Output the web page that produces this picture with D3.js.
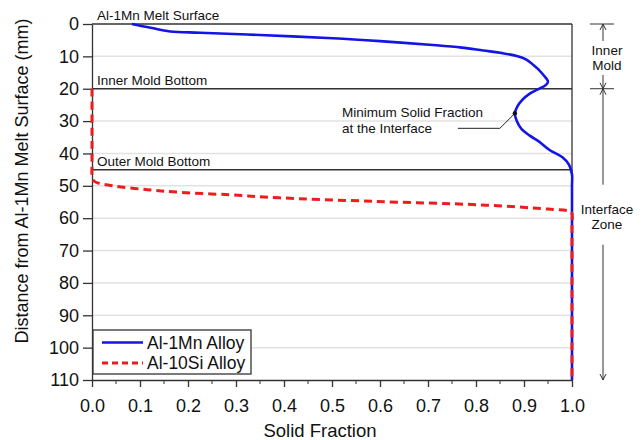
<!DOCTYPE html>
<html>
<head>
<meta charset="utf-8">
<script src="https://cdn.jsdelivr.net/npm/d3@7"></script>
<style>
  body { margin: 0; background: #fff; }
  text { font-family: "Liberation Sans", Arial, sans-serif; fill: #111; }
</style>
</head>
<body>
<div class="chart"></div>
<script>
// values
var xTicks = [0, 0.1, 0.2, 0.3, 0.4, 0.5, 0.6, 0.7, 0.8, 0.9, 1.0];
var xMinorTicks = [0.05, 0.15, 0.25, 0.35, 0.45, 0.55, 0.65, 0.75, 0.85, 0.95];
var yTicks = [0, 10, 20, 30, 40, 50, 60, 70, 80, 90, 100, 110];

// Al-1Mn alloy: solid fraction vs depth (mm)
var mnFraction = [0.083, 0.12, 0.163, 0.225, 0.35, 0.502, 0.6, 0.71, 0.77, 0.815, 0.855, 0.885, 0.905, 0.919, 0.93, 0.94, 0.95, 0.945, 0.933, 0.912, 0.896, 0.886, 0.881, 0.885, 0.895, 0.912, 0.93, 0.954, 0.98, 0.994, 1.0, 1.0, 1.0];
var mnDepth    = [0,     1.1,  2.3,   2.7,   3.4,  4.4,   5.3, 6.5,  7.3,  8.2,   9.0,   9.9,   11.0,  12.6,  14.0, 15.7, 17.8, 18.9,  19.9,  21.5,  23.5,  25.5,  27.6,  30.0,  32.5,  34.5,  36.2, 39.0,  41.2, 43.5,  46.5, 50,  110];

// Al-10Si alloy
var siFraction = [0.0, 0.0, 0.0,  0.004, 0.044, 0.115, 0.183, 0.29, 0.39, 0.585, 0.81, 0.95, 0.996, 1.0,  1.0, 1.0];
var siDepth    = [20,  44,  46.5, 48.5,  50.0,  51.2,  52.0,  52.8, 53.7, 54.8,  55.9, 57.2, 57.9,  58.6, 62,  110];

var refDepths = [0, 20, 45];
var refLabels = ["Al-1Mn Melt Surface", "Inner Mold Bottom", "Outer Mold Bottom"];

var zoneStarts = [0, 20];
var zoneEnds = [20, 110];
var zoneLabels = [["Inner", "Mold"], ["Interface", "Zone"]];

var seriesNames = ["Al-1Mn Alloy", "Al-10Si Alloy"];
var seriesColors = ["#1414e6", "#ee1c1c"];

var minPoint = [0.881, 27.6];

var width = 644, height = 440;

var svg = d3.select(".chart").append("svg")
    .attr("width", width)
    .attr("height", height);

var x = d3.scaleLinear().domain([0, 1]).range([92, 572]);
var y = d3.scaleLinear().domain([0, 110]).range([24, 380]);

//light gridlines
svg.append("g").selectAll("line")
    .data(yTicks.filter(function(d) { return d > 0 && d < 110; }))
    .enter().append("line")
    .attr("x1", x(0)).attr("x2", x(1))
    .attr("y1", function(d) { return y(d); })
    .attr("y2", function(d) { return y(d); })
    .attr("stroke", "#e2e2e2")
    .attr("stroke-width", 1.5);

//x axis
var xAxis = d3.axisBottom(x).tickValues(xTicks).tickFormat(d3.format(".1f")).tickSize(7).tickSizeOuter(0);
var gx = svg.append("g")
    .attr("transform", "translate(0," + y(110) + ")")
    .call(xAxis);
gx.selectAll("text").attr("font-size", "18px").attr("dy", "1.2em");
gx.append("g").selectAll("line")
    .data(xMinorTicks)
    .enter().append("line")
    .attr("x1", function(d) { return x(d); })
    .attr("x2", function(d) { return x(d); })
    .attr("y1", 0).attr("y2", 4)
    .attr("stroke", "#333");

//y axis
var yAxis = d3.axisLeft(y).tickValues(yTicks).tickSize(9).tickSizeOuter(0);
var gy = svg.append("g")
    .attr("transform", "translate(" + x(0) + ",0)")
    .call(yAxis);
gy.selectAll("text").attr("font-size", "18px").attr("x", -13);

svg.selectAll(".domain, .tick line").attr("stroke", "#333").attr("stroke-width", 1.3);

//right border
svg.append("line")
    .attr("x1", x(1)).attr("x2", x(1))
    .attr("y1", y(0)).attr("y2", y(110))
    .attr("stroke", "#333").attr("stroke-width", 1.3);

//reference lines for the mold levels
svg.append("g").selectAll("line")
    .data(refDepths)
    .enter().append("line")
    .attr("x1", x(0)).attr("x2", x(1))
    .attr("y1", function(d) { return y(d); })
    .attr("y2", function(d) { return y(d); })
    .attr("stroke", "#333")
    .attr("stroke-width", 1.5);

svg.append("g").selectAll("text")
    .data(refDepths)
    .enter().append("text")
    .attr("x", x(0) + 5)
    .attr("y", function(d) { return y(d) - 4; })
    .attr("font-size", "13.5px")
    .text(function(d, i) { return refLabels[i]; });

//curves
var line = d3.line()
    .x(function(d) { return x(d[0]); })
    .y(function(d) { return y(d[1]); })
    .curve(d3.curveCatmullRom.alpha(0.5));

var mnData = mnFraction.map(function(f, i) { return [f, mnDepth[i]]; });
var siData = siFraction.map(function(f, i) { return [f, siDepth[i]]; });

svg.append("path")
    .datum(mnData)
    .attr("d", line)
    .attr("fill", "none")
    .attr("stroke", seriesColors[0])
    .attr("stroke-width", 2.6);

svg.append("path")
    .datum(siData)
    .attr("d", line)
    .attr("fill", "none")
    .attr("stroke", seriesColors[1])
    .attr("stroke-width", 3)
    .attr("stroke-dasharray", "8,5");

//minimum solid fraction callout
var px = x(minPoint[0]), py = y(minPoint[1]);
svg.append("polyline")
    .attr("points", [[px - 57, py + 15], [px - 15, py + 15], [px, py]].map(function(p) { return p.join(","); }).join(" "))
    .attr("fill", "none")
    .attr("stroke", "#222")
    .attr("stroke-width", 1);
svg.append("circle").attr("cx", px).attr("cy", py).attr("r", 2.2).attr("fill", "#111");
svg.append("text")
    .attr("x", 342).attr("y", py + 4)
    .attr("font-size", "13.5px")
    .text("Minimum Solid Fraction");
svg.append("text")
    .attr("x", 342).attr("y", py + 20)
    .attr("font-size", "13.5px")
    .text("at the Interface");

//zone dimension arrows on the right
var ax = 603;
var zoneMid = [35, 129];     // label offset below the zone start
var zoneGapTop = [18, 33];
var zoneGapBottom = [16, 27];
var arrowHead = function(g, yy, dir) {
  g.append("path")
    .attr("d", "M" + (ax - 3) + "," + (yy - dir * 6) + " L" + ax + "," + yy + " L" + (ax + 3) + "," + (yy - dir * 6))
    .attr("fill", "none")
    .attr("stroke", "#333")
    .attr("stroke-width", 1);
};

var zg = svg.append("g");
zoneStarts.forEach(function(s, i) {
  var y0 = y(s), y1 = y(zoneEnds[i]);
  var mid = y0 + zoneMid[i];
  zg.append("line").attr("x1", ax).attr("x2", ax).attr("y1", y0).attr("y2", mid - zoneGapTop[i])
    .attr("stroke", "#333").attr("stroke-width", 1);
  zg.append("line").attr("x1", ax).attr("x2", ax).attr("y1", mid + zoneGapBottom[i]).attr("y2", y1)
    .attr("stroke", "#333").attr("stroke-width", 1);
  arrowHead(zg, y0, -1);
  arrowHead(zg, y1, 1);
  zoneLabels[i].forEach(function(t, j) {
    zg.append("text")
      .attr("x", ax + 4).attr("y", mid - 4 + j * 15)
      .attr("text-anchor", "middle")
      .attr("font-size", "13.5px")
      .text(t);
  });
  zg.append("line")
    .attr("x1", ax - 13).attr("x2", ax + 11)
    .attr("y1", y0).attr("y2", y0)
    .attr("stroke", "#333").attr("stroke-width", 1);
});

//legend
var lg = svg.append("g").attr("transform", "translate(93,330)");
lg.append("rect").attr("width", 158).attr("height", 44)
    .attr("fill", "#fff").attr("stroke", "#333").attr("stroke-width", 1.3);
seriesNames.forEach(function(name, i) {
  var ly = 12.5 + i * 20.5;
  lg.append("line").attr("x1", 9).attr("x2", 50).attr("y1", ly).attr("y2", ly)
    .attr("stroke", seriesColors[i])
    .attr("stroke-width", i === 0 ? 2.6 : 3)
    .attr("stroke-dasharray", i === 0 ? null : "6,4");
  lg.append("text").attr("x", 54).attr("y", ly + 6)
    .attr("font-size", "17.5px")
    .text(name);
});

//axis titles
svg.append("text")
    .attr("x", 320).attr("y", 437)
    .attr("text-anchor", "middle")
    .attr("font-size", "18.5px")
    .text("Solid Fraction");

svg.append("text")
    .attr("transform", "translate(28,181) rotate(-90)")
    .attr("text-anchor", "middle")
    .attr("font-size", "18px")
    .text("Distance from Al-1Mn Melt Surface (mm)");
</script>
</body>
</html>
